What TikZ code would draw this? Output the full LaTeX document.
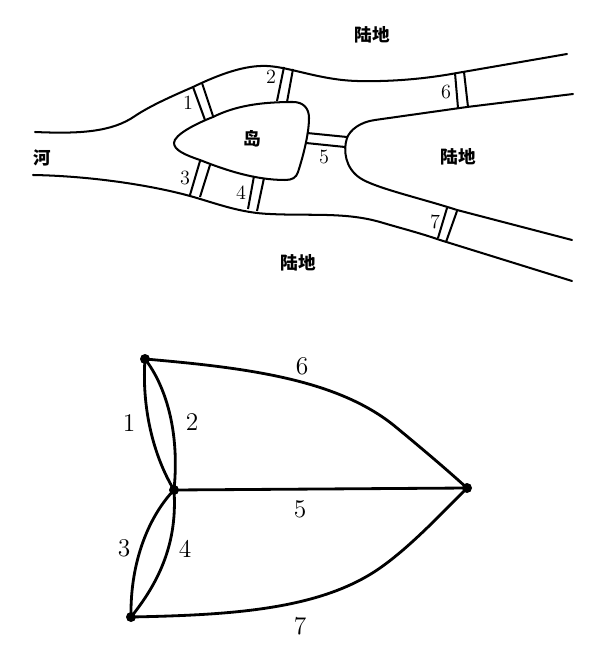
\documentclass[tikz,border=0pt]{standalone}
\usepackage{fontspec}
\newfontfamily\cjk{Noto Sans CJK SC}
\usepackage{tikz}
\usetikzlibrary{positioning, calc}

\begin{document}
\begin{tikzpicture}[x=0.02cm, y=-0.02cm,
    bank/.style={line width=1.15pt, line cap=round},
    bridge/.style={line width=1.15pt},
    edge/.style={line width=1.6pt},
    vertex/.style={circle, fill=black, inner sep=0pt, minimum size=0.2cm},
    place/.style={font=\cjk\bfseries\fontsize{10}{11}\selectfont, inner sep=0pt},
    num/.style={font=\fontsize{11.5}{13}\selectfont, inner sep=0pt},
    weight/.style={font=\fontsize{14.5}{16}\selectfont, inner sep=0pt}
]
\useasboundingbox (0,0) rectangle (600,668);

% River banks
\draw[bank] (35,132) .. controls (80,134) and (112,132) .. (135,116)
    .. controls (150,106) and (170,97) .. (193,87)
    .. controls (220,74) and (245,65) .. (267,66)
    .. controls (290,67) and (320,80) .. (357,81)
    .. controls (395,82) and (430,78) .. (457,73) -- (567,54);
\draw[bank] (573,94) -- (467,107) -- (375,120)
    .. controls (360,122) and (350,130) .. (347,138)
    .. controls (343,150) and (345,168) .. (360,178)
    .. controls (375,188) and (420,198) .. (457,210) -- (572,240);
\draw[bank] (33,175) .. controls (90,176) and (150,185) .. (190,196)
    .. controls (215,203) and (240,213) .. (270,214)
    .. controls (310,216) and (345,212) .. (380,222)
    .. controls (400,228) and (420,233) .. (440,240) -- (572,281);

% Island
\draw[bank] (174,143) .. controls (174,135) and (195,124) .. (213,117)
    .. controls (235,106) and (260,102) .. (293,102)
    .. controls (303,102) and (309,108) .. (309,118)
    .. controls (309,135) and (302,160) .. (298,172)
    .. controls (296,178) and (292,180) .. (285,180)
    .. controls (255,180) and (225,170) .. (200,160)
    .. controls (185,155) and (174,150) .. (174,143) -- cycle;

% Bridges
\foreach \name/\ax/\ay/\bx/\by/\cx/\cy/\dx/\dy in {
    1/193/87/205/120/202/83/213/116,
    2/284/67/277/101/293/69/287/102,
    3/200/161/190/195/210/165/200/197,
    4/254/176/248/209/264/178/257/211,
    5/307/133/347/137/306/143/345/147,
    6/455/73/458/108/464/72/468/107,
    7/447/208/438/238/457/211/446/242}
{
    \coordinate (p\name a) at (\ax,\ay);
    \coordinate (p\name b) at (\bx,\by);
    \coordinate (q\name a) at (\cx,\cy);
    \coordinate (q\name b) at (\dx,\dy);
    \draw[bridge] (p\name a) -- (p\name b);
    \draw[bridge] (q\name a) -- (q\name b);
}

% Bridge labels
\node[num] (n1) at (188,103) {1};
\node[num] (n2) at (271,77) {2};
\node[num] (n3) at (185,178) {3};
\node[num] (n4) at (241,193) {4};
\node[num] (n5) at (324,157) {5};
\node[num] (n6) at (446,92) {6};
\node[num] (n7) at (435,222) {7};

% Place names
\node[place] (north) at (372,35) {陆地};
\node[place] (east) at (458,157) {陆地};
\node[place] (south) at (298,263) {陆地};
\node[place] (river) at (42,158) {河};
\node[place] (island) at (252,139) {岛};

% Graph vertices
\node[vertex] (a) at (145,359) {};
\node[vertex] (b) at (174,490) {};
\node[vertex] (c) at (131,617) {};
\node[vertex] (d) at (467,488) {};

% Graph edges
\draw[edge] (a.center) .. controls (142,400) and (150,450) .. (b.center);
\draw[edge] (a.center) .. controls (165,385) and (180,430) .. (b.center);
\draw[edge] (b.center) .. controls (150,515) and (130,560) .. (c.center);
\draw[edge] (b.center) .. controls (177,535) and (165,575) .. (c.center);
\draw[edge] (b.center) -- (d.center);
\draw[edge] (a.center) .. controls (250,368) and (340,380) .. (397,428)
    .. controls (420,447) and (445,468) .. (d.center);
\draw[edge] (c.center) .. controls (230,615) and (320,610) .. (380,568)
    .. controls (410,547) and (440,515) .. (d.center);

% Graph edge labels
\node[weight] (e1) at (129,423) {1};
\node[weight] (e2) at (192,422) {2};
\node[weight] (e3) at (124,548) {3};
\node[weight] (e4) at (185,549) {4};
\node[weight] (e5) at (300,509) {5};
\node[weight] (e6) at (302,366) {6};
\node[weight] (e7) at (300,626) {7};

\end{tikzpicture}
\end{document}
